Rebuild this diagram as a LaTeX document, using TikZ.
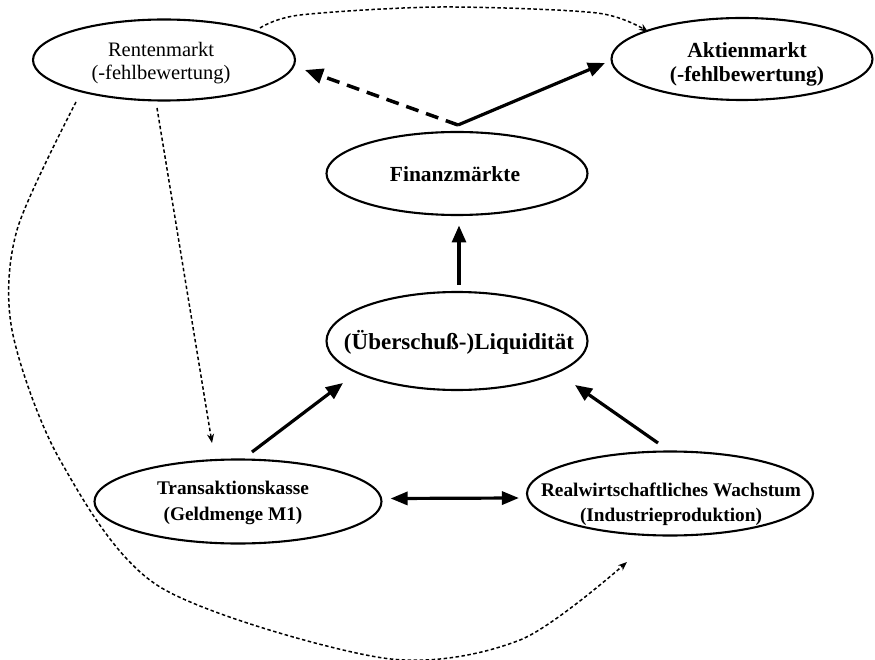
\documentclass[tikz,border=0pt]{standalone}
\usepackage{fontspec}
\setmainfont{Liberation Serif}
\usetikzlibrary{shapes.geometric,arrows.meta,calc}
\begin{document}
\begin{tikzpicture}[x=1pt,y=-1pt,
  ell/.style={draw, ellipse, line width=2.1pt, inner sep=0pt},
  lbl/.style={align=center, inner sep=0pt},
  bigarrow/.style={line width=3.2pt, -{Triangle[length=17pt,width=14pt]}},
  dblarrow/.style={line width=3.2pt, {Triangle[length=17pt,width=13pt]}-{Triangle[length=17pt,width=13pt]}},
  dasharrow/.style={line width=3.5pt, dash pattern=on 13pt off 8pt, -{Triangle[length=18pt,width=15pt]}},
  dotarrow/.style={line width=1.5pt, dash pattern=on 3.5pt off 2.5pt, -{Stealth[length=9pt,width=7pt]}}
]
\useasboundingbox (0,0) rectangle (875,660);

% ellipses
\node[ell, minimum width=262pt, minimum height=81pt] (rm) at (164,60) {};
\node[ell, minimum width=261pt, minimum height=82pt] (ak) at (742,59) {};
\node[ell, minimum width=261pt, minimum height=83pt] (fm) at (457,173.5) {};
\node[ell, minimum width=261pt, minimum height=98pt] (lq) at (457,341) {};
\node[ell, minimum width=287pt, minimum height=84pt] (tk) at (238,501.5) {};
\node[ell, minimum width=286pt, minimum height=84pt] (rw) at (670,493.5) {};

% labels
\node[lbl, font=\fontsize{20.5}{23}\selectfont] (rmt) at (161,63) {Rentenmarkt\\(-fehlbewertung)};
\node[lbl, font=\fontsize{21.5}{24}\selectfont\bfseries] (akt) at (747,64) {Aktienmarkt\\(-fehlbewertung)};
\node[lbl, font=\fontsize{21.5}{24}\selectfont\bfseries] (fmt) at (455,174) {Finanzmärkte};
\node[lbl, font=\fontsize{23}{26}\selectfont\bfseries] (lqt) at (459,342) {(Überschuß-)Liquidität};
\node[lbl, font=\fontsize{19.3}{26}\selectfont\bfseries] (tkt) at (233,503) {Transaktionskasse\\(Geldmenge M1)};
\node[lbl, font=\fontsize{19.3}{25}\selectfont\bfseries] (rwt) at (671,504) {Realwirtschaftliches Wachstum\\(Industrieproduktion)};

% solid arrows
\draw[bigarrow] ($(lq.center)+(2,-56)$) -- ($(fm.center)+(2,52)$);
\draw[bigarrow] ($(tk.center)+(14,-49.5)$) -- ($(lq.center)+(-114,42)$);
\draw[bigarrow] ($(rw.center)+(-12,-50.5)$) -- ($(lq.center)+(118,44)$);
\draw[dblarrow] ($(tk.east)+(8,-3)$) -- ($(rw.west)+(-7,4.5)$);
\draw[bigarrow] ($(fm.center)+(1,-48.5)$) -- ($(ak.center)+(-137,4)$);
\draw[dasharrow] ($(fm.center)+(1,-48.5)$) -- ($(rm.center)+(141,10)$);

% dotted connectors
\coordinate (topS) at ($(rm.center)+(96,-32)$);
\coordinate (topE) at ($(ak.center)+(-94,-27)$);
\draw[dotarrow] plot[smooth] coordinates {(topS) (300,15) (440,7) (597,13) (topE)};

\draw[dotarrow] ($(rm.center)+(-7,48)$) -- ($(tk.center)+(-26,-58.5)$);

\coordinate (bigS) at ($(rm.center)+(-88,42)$);
\coordinate (bigE) at ($(rw.center)+(-43,68.5)$);
\draw[dotarrow] plot[smooth] coordinates {(bigS) (17,230) (12,330) (60,460) (160,587) (383,658) (520,640) (bigE)};
\end{tikzpicture}
\end{document}
